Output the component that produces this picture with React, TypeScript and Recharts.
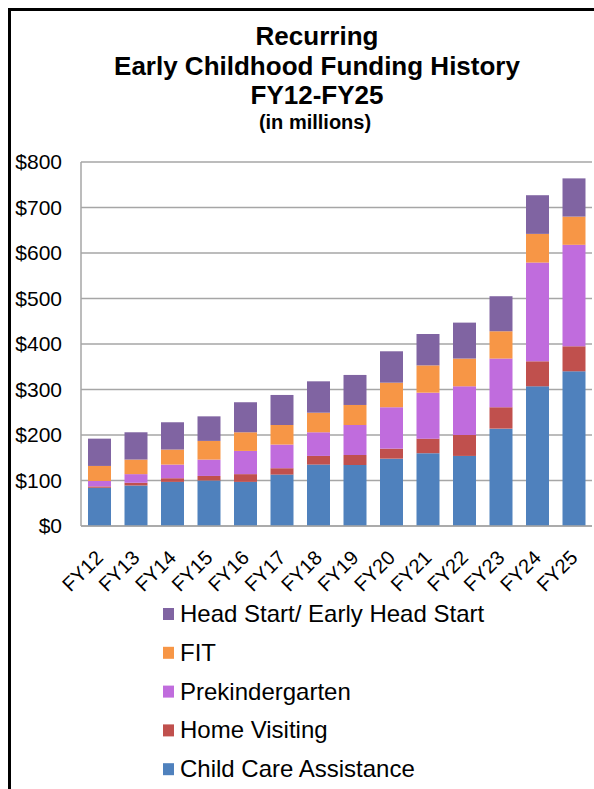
import { Bar, BarChart, CartesianGrid, XAxis, YAxis } from "recharts";

const years = ["FY12", "FY13", "FY14", "FY15", "FY16", "FY17", "FY18", "FY19", "FY20", "FY21", "FY22", "FY23", "FY24", "FY25"];
const childCare = [84, 89, 97, 100, 97, 113, 135, 134, 148, 160, 154, 214, 307, 340];
const homeVisiting = [3, 6, 8, 10, 17, 14, 19, 22, 22, 32, 46, 47, 55, 55];
const prek = [12, 19, 30, 36, 51, 52, 52, 66, 91, 101, 107, 107, 217, 223];
const fit = [33, 32, 33, 41, 41, 43, 43, 44, 54, 60, 61, 60, 63, 62];
const headStart = [60, 60, 60, 54, 66, 66, 69, 66, 69, 69, 79, 77, 85, 84];
const yTicks = [0, 100, 200, 300, 400, 500, 600, 700, 800];
const titleLines = ["Recurring", "Early Childhood Funding History", "FY12-FY25"];
const subtitle = "(in millions)";

const series = [
  { key: "childCare", name: "Child Care Assistance", values: childCare, color: "#4F81BD" },
  { key: "homeVisiting", name: "Home Visiting", values: homeVisiting, color: "#C0504D" },
  { key: "prek", name: "Prekindergarten", values: prek, color: "#C06CDD" },
  { key: "fit", name: "FIT", values: fit, color: "#F79646" },
  { key: "headStart", name: "Head Start/ Early Head Start", values: headStart, color: "#8064A2" },
];

const data = years.map((fy, i) => {
  const row: Record<string, string | number> = { fy };
  series.forEach((s) => (row[s.key] = s.values[i]));
  return row;
});

const FONT = "'Liberation Sans', Arial, sans-serif";

function FyTick({ x, y, payload }: any) {
  const ax = x + 5;
  const ay = y + 31;
  return (
    <text
      x={ax}
      y={ay}
      transform={`rotate(-45 ${ax} ${ay})`}
      textAnchor="end"
      fontSize={20}
      fontFamily={FONT}
      fill="#000"
    >
      {payload.value}
    </text>
  );
}

export default function App() {
  const legendItems = [...series].reverse();
  return (
    <div style={{ position: "absolute", left: 0, top: 0, width: 594, height: 789, overflow: "hidden", background: "#fff", fontFamily: FONT }}>
      {/* frame: only top and left edges show in the crop */}
      <div style={{ position: "absolute", left: 8, top: 8, width: 600, height: 820, borderLeft: "3px solid #000", borderTop: "3px solid #000" }} />

      <div style={{ position: "absolute", left: 0, top: 0 }}>
        <BarChart width={594} height={789} data={data} margin={{ top: 162, right: 2, left: 0, bottom: 253 }}>
          <CartesianGrid vertical={false} stroke="#A6A6A6" strokeWidth={1.5} />
          <XAxis
            dataKey="fy"
            tick={<FyTick />}
            tickLine={false}
            tickSize={0}
            axisLine={{ stroke: "#A6A6A6", strokeWidth: 1.5 }}
            interval={0}
            height={10}
          />
          <YAxis
            domain={[0, 800]}
            ticks={yTicks}
            width={81}
            tickLine={false}
            tickSize={0}
            tickMargin={19}
            axisLine={{ stroke: "#A6A6A6", strokeWidth: 1.5 }}
            tick={{ fontSize: 21, fill: "#000", fontFamily: FONT }}
            tickFormatter={(v) => `$${v}`}
          />
          {series.map((s) => (
            <Bar key={s.key} dataKey={s.key} name={s.name} stackId="a" fill={s.color} barSize={23} isAnimationActive={false} />
          ))}
        </BarChart>
      </div>

      <svg width={594} height={789} style={{ position: "absolute", left: 0, top: 0, pointerEvents: "none" }} fontFamily={FONT}>
        {titleLines.map((t, i) => (
          <text key={t} x={317} y={45 + i * 29.5} textAnchor="middle" fontSize={26} fontWeight={700} fill="#000">
            {t}
          </text>
        ))}
        <text x={315} y={129} textAnchor="middle" fontSize={20} fontWeight={700} fill="#000">
          {subtitle}
        </text>
        {legendItems.map((s, i) => (
          <g key={s.key}>
            <rect x={163} y={608 + i * 38.8} width={11} height={12} fill={s.color} />
            <text x={180} y={622 + i * 38.8} fontSize={24} fill="#000">
              {s.name}
            </text>
          </g>
        ))}
      </svg>
    </div>
  );
}
